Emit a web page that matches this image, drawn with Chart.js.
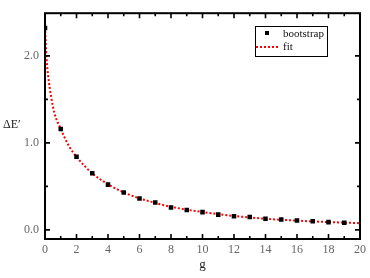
<!DOCTYPE html>
<html>
<head>
<meta charset="utf-8">
<script src="https://cdn.jsdelivr.net/npm/chart.js@4.4.1/dist/chart.umd.min.js"></script>
<style>
  html, body { margin: 0; padding: 0; background: #fff; }
  #wrap { width: 370px; height: 278px; position: relative; }
</style>
</head>
<body>
<div id="wrap"><canvas id="chart"></canvas></div>
<script>
const gValues = [0, 1, 2, 3, 4, 5, 6, 7, 8, 9, 10, 11, 12, 13, 14, 15, 16, 17, 18, 19];
const bootstrapValues = [2.32, 1.16, 0.84, 0.65, 0.52, 0.43, 0.36, 0.315, 0.258, 0.228,
  0.204, 0.175, 0.157, 0.148, 0.127, 0.118, 0.107, 0.1, 0.089, 0.082];
const fitG = [0, 0.1, 0.2, 0.4, 0.6, 1, 1.5, 2, 3, 4, 5, 6, 7, 8, 10, 12, 14, 16, 18, 20];
const fitValues = [2.33, 1.97, 1.77, 1.52, 1.34, 1.16, 0.97, 0.84, 0.65, 0.525,
  0.43, 0.362, 0.31, 0.265, 0.205, 0.16, 0.128, 0.106, 0.09, 0.077];
const xTickLabels = ['0', '2', '4', '6', '8', '10', '12', '14', '16', '18', '20'];
const yTickLabels = ['0.0', '1.0', '2.0'];

const serif = '"Liberation Serif", "Times New Roman", serif';

// frame, inward ticks, horizontal y title and the boxed legend
const framePlugin = {
  id: 'frame',
  afterDraw(chart) {
    const ctx = chart.ctx;
    const a = chart.chartArea;
    const xs = chart.scales.x;
    const ys = chart.scales.y;
    ctx.save();
    ctx.strokeStyle = '#000';
    ctx.lineWidth = 2;
    ctx.strokeRect(a.left, a.top, a.right - a.left, a.bottom - a.top);

    ctx.lineWidth = 1.6;
    const xt = xs.ticks.map((t) => t.value);
    xt.forEach((v, i) => {
      const px = xs.getPixelForValue(v);
      ctx.beginPath();
      ctx.moveTo(px, a.bottom); ctx.lineTo(px, a.bottom - 5);
      ctx.moveTo(px, a.top); ctx.lineTo(px, a.top + 5);
      ctx.stroke();
      if (i < xt.length - 1) {
        const mx = xs.getPixelForValue((v + xt[i + 1]) / 2);
        ctx.beginPath();
        ctx.moveTo(mx, a.bottom); ctx.lineTo(mx, a.bottom - 3);
        ctx.moveTo(mx, a.top); ctx.lineTo(mx, a.top + 3);
        ctx.stroke();
      }
    });
    const yt = ys.ticks.map((t) => t.value);
    yt.forEach((v, i) => {
      const py = ys.getPixelForValue(v);
      ctx.beginPath();
      ctx.moveTo(a.left, py); ctx.lineTo(a.left + 5, py);
      ctx.moveTo(a.right, py); ctx.lineTo(a.right - 5, py);
      ctx.stroke();
      if (i < yt.length - 1) {
        const my = ys.getPixelForValue((v + yt[i + 1]) / 2);
        ctx.beginPath();
        ctx.moveTo(a.left, my); ctx.lineTo(a.left + 3, my);
        ctx.moveTo(a.right, my); ctx.lineTo(a.right - 3, my);
        ctx.stroke();
      }
    });

    // y title, horizontal
    ctx.fillStyle = '#222';
    ctx.font = '12px ' + serif;
    ctx.textAlign = 'left';
    ctx.textBaseline = 'middle';
    ctx.fillText('\u0394E\u2032', 3, 125);

    // legend
    const lx = 255, ly = 26, lw = 72, lh = 30;
    ctx.fillStyle = '#fff';
    ctx.fillRect(lx, ly, lw, lh);
    ctx.lineWidth = 1;
    ctx.strokeStyle = '#000';
    ctx.strokeRect(lx + 0.5, ly + 0.5, lw, lh);
    const ds = chart.data.datasets;
    ctx.fillStyle = '#000';
    ctx.fillRect(265, 31, 4, 4);
    ctx.strokeStyle = ds[1].borderColor;
    ctx.lineWidth = 2;
    ctx.setLineDash([2, 2]);
    ctx.beginPath();
    ctx.moveTo(256, 47); ctx.lineTo(280, 47);
    ctx.stroke();
    ctx.setLineDash([]);
    ctx.fillStyle = '#111';
    ctx.font = '11px ' + serif;
    ctx.fillText(ds[0].label, 283, 34);
    ctx.fillText(ds[1].label, 283, 47);
    ctx.restore();
  }
};

new Chart(document.getElementById('chart'), {
  type: 'line',
  data: {
    datasets: [{
      label: 'bootstrap',
      data: gValues.map((g, i) => ({ x: g, y: bootstrapValues[i] })),
      showLine: false,
      pointStyle: 'rect',
      pointRadius: 3.2,
      backgroundColor: '#000',
      borderColor: '#000',
      borderWidth: 0,
      order: 0
    }, {
      label: 'fit',
      data: fitG.map((g, i) => ({ x: g, y: fitValues[i] })),
      borderColor: '#ff0000',
      borderWidth: 2,
      borderDash: [2, 2],
      pointRadius: 0,
      fill: false,
      cubicInterpolationMode: 'monotone',
      order: 1
    }]
  },
  options: {
    animation: false,
    responsive: true,
    maintainAspectRatio: false,
    layout: { padding: { top: 6, right: 9, left: 0, bottom: 6 } },
    plugins: { legend: { display: false }, tooltip: { enabled: false } },
    scales: {
      x: {
        type: 'linear',
        min: 0,
        max: 20,
        grid: { display: false, drawTicks: false },
        border: { display: false },
        ticks: {
          stepSize: 2,
          padding: 4,
          color: '#666',
          font: { family: serif, size: 12 },
          callback: (v) => xTickLabels[v / 2]
        },
        title: {
          display: true,
          text: 'g',
          color: '#222',
          font: { family: serif, size: 13 },
          padding: { top: 2, bottom: 0 }
        },
        afterFit: (s) => { s.height = 33; }
      },
      y: {
        type: 'linear',
        min: -0.105,
        max: 2.49,
        grid: { display: false, drawTicks: false },
        border: { display: false },
        ticks: {
          stepSize: 1,
          includeBounds: false,
          padding: 6,
          color: '#666',
          font: { family: serif, size: 12 },
          callback: (v) => yTickLabels[Math.round(v)]
        },
        afterFit: (s) => { s.width = 45; }
      }
    }
  },
  plugins: [framePlugin]
});
</script>
</body>
</html>
